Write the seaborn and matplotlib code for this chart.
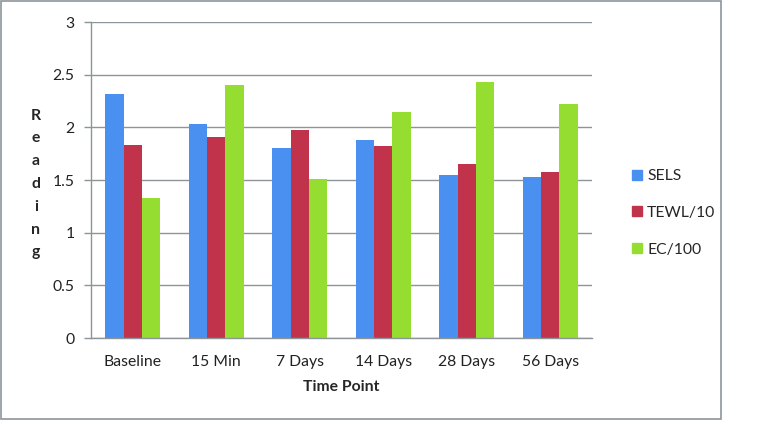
import pandas as pd
import matplotlib.pyplot as plt
import seaborn as sns
from matplotlib.patches import Rectangle

# chart data
time_points = ['Baseline', '15 Min', '7 Days', '14 Days', '28 Days', '56 Days']
series_names = ['SELS', 'TEWL/10', 'EC/100']
sels = [2.32, 2.03, 1.80, 1.88, 1.55, 1.53]
tewl = [1.83, 1.91, 1.97, 1.82, 1.65, 1.58]
ec = [1.33, 2.40, 1.51, 2.15, 2.43, 2.22]
y_ticks = [0, 0.5, 1, 1.5, 2, 2.5, 3]

colors = ['#4a90f0', '#c1334a', '#95de31']

# long format for seaborn
df = pd.DataFrame({
    'Time Point': time_points * 3,
    'Series': [s for s in series_names for _ in time_points],
    'Reading': sels + tewl + ec,
})

sns.set_theme(style='white')
plt.rcParams['font.family'] = ['Lato', 'DejaVu Sans']
fs = 11.3

fig = plt.figure(figsize=(7.62, 4.30), dpi=100)
ax = fig.add_axes([91 / 762, 1 - 338 / 430, (592 - 91) / 762, (338 - 22) / 430])

sns.barplot(data=df, x='Time Point', y='Reading', hue='Series',
            order=time_points, hue_order=series_names, palette=colors,
            width=0.66, gap=0, saturation=1, linewidth=0, ax=ax)

grid_c = '#8e9598'
ax.set_ylim(0, 3)
ax.set_xlim(-0.5, 5.5)
ax.set_yticks(y_ticks)
ax.set_yticklabels(['0', '0.5', '1', '1.5', '2', '2.5', '3'])
ax.yaxis.grid(True, color=grid_c, linewidth=1)
ax.set_axisbelow(True)
for side in ['top', 'right']:
    ax.spines[side].set_visible(False)
for side in ['left', 'bottom']:
    ax.spines[side].set_color(grid_c)
    ax.spines[side].set_linewidth(1)

# excel style ticks between categories
ax.set_xticks([i - 0.5 for i in range(7)], minor=True)
ax.tick_params(axis='x', which='major', length=0, pad=12, labelsize=fs, colors='#222222')
ax.tick_params(axis='x', which='minor', length=5, color=grid_c, width=1, direction='out')
ax.tick_params(axis='y', length=5, color=grid_c, width=1, direction='out', left=True,
               labelsize=fs, labelcolor='#222222', pad=7)

ax.set_xlabel('Time Point', fontsize=fs, fontweight='bold', labelpad=8)
ax.set_ylabel('')
fig.text(36 / 762, 1 - 184 / 430, '\n'.join('Reading'), ha='center', va='center',
         fontsize=fs, fontweight='bold', linespacing=1.8)

ax.legend_.remove()
handles = [Rectangle((0, 0), 1, 1, color=c) for c in colors]
fig.legend(handles, series_names, loc='center left',
           bbox_to_anchor=(618 / 762, 1 - 213 / 430), frameon=False,
           fontsize=fs, handlelength=0.6, handleheight=0.6,
           handletextpad=0.35, labelspacing=1.45)

# outer chart border
fig.patches.append(Rectangle((1 / 762, 1 - 419 / 430), 720 / 762, 418 / 430,
                             transform=fig.transFigure, fill=False,
                             edgecolor='#8e9598', linewidth=1.2))

fig.savefig('out.png', dpi=100)
